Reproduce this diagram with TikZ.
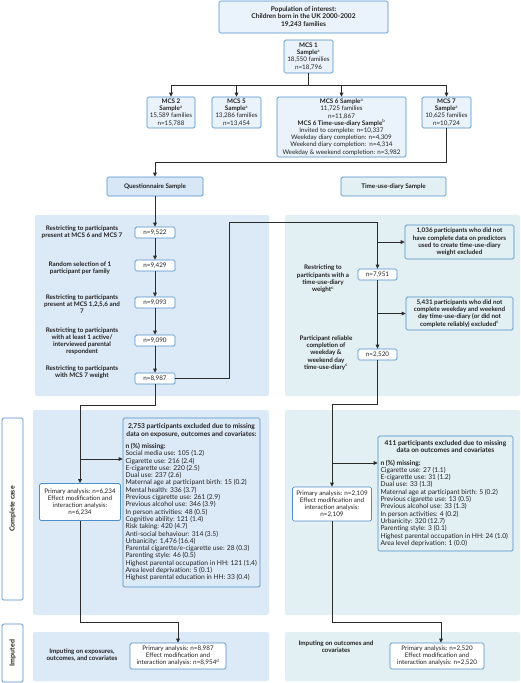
\documentclass[tikz,border=0pt]{standalone}
\usepackage{fontspec}
\setmainfont{Lato}
\usetikzlibrary{arrows.meta}
\definecolor{bord}{HTML}{4D8FCC}
\definecolor{topfill}{HTML}{EAF3FB}
\definecolor{qfill}{HTML}{D8E7F5}
\definecolor{panelL}{HTML}{DCE9F6}
\definecolor{panelR}{HTML}{E2EFF3}
\definecolor{lc}{HTML}{2B2B2B}
\definecolor{txt}{HTML}{222222}
\newcommand{\fs}{\fontsize{6.3}{7.2}\selectfont}
\newcommand{\fsl}{\fontsize{6.7}{7.3}\selectfont}
\newcommand{\sa}[1]{\textsuperscript{#1}}
\tikzset{
 bx/.style={draw=bord, line width=0.7pt, rounded corners=1.5pt, align=center, inner sep=1pt, font=\fs, text=txt},
 topbx/.style={bx, fill=topfill},
 nbx/.style={bx, fill=white, minimum width=40pt, minimum height=11pt},
 wbx/.style={bx, fill=white},
 lbl/.style={align=center, font=\fs\bfseries, inner sep=0pt, text=txt},
 arr/.style={draw=lc, line width=0.8pt, -{Triangle[length=4pt,width=3.6pt]}},
 ln/.style={draw=lc, line width=0.8pt},
 side/.style={bx, fill=white, rotate=90, font=\fontsize{7}{8}\selectfont\bfseries},
}
\begin{document}
\begin{tikzpicture}[x=1pt,y=-1pt]
\useasboundingbox (0,0) rectangle (520,683);
% panels
\fill[panelL, rounded corners=2pt] (35,215) rectangle (269,396);
\fill[panelR, rounded corners=2pt] (285,215) rectangle (520,396);
\fill[panelL, rounded corners=2pt] (33,410) rectangle (269,615);
\fill[panelR, rounded corners=2pt] (285,410) rectangle (520,615);
\fill[panelL, rounded corners=2pt] (33,632) rectangle (269,681);
\fill[panelR, rounded corners=2pt] (285,632) rectangle (520,681);

% side labels
\node[side, minimum width=182pt, minimum height=21pt] (sl1) at (12.5,509) {Complete case};
\node[side, minimum width=58pt, minimum height=21pt] (sl2) at (12.5,653) {Imputed};

% top
\node[topbx, minimum width=169pt, minimum height=32pt, font=\fontsize{6.6}{7.6}\selectfont\bfseries] (pop) at (303.5,17) {Population of interest:\\Children born in the UK 2000-2002\\19,243 families};
\node[topbx, minimum width=49pt, minimum height=33pt] (mcs1) at (308.5,56.5) {\textbf{MCS 1}\\\textbf{Sample}\sa{a}\\18,550 families\\n=18,796};
\node[topbx, minimum width=48pt, minimum height=31pt] (mcs2) at (171,112.5) {\textbf{MCS 2}\\\textbf{Sample}\sa{a}\\15,589 families\\n=15,788};
\node[topbx, minimum width=49pt, minimum height=31pt] (mcs5) at (236.5,112.5) {\textbf{MCS 5}\\\textbf{Sample}\sa{a}\\13,286 families\\n=13,454};
\node[topbx, minimum width=129pt, minimum height=60pt] (mcs6) at (341.5,127) {\textbf{MCS 6 Sample}\sa{a}\\11,725 families\\n=11,867\\\textbf{MCS 6 Time-use-diary Sample}\sa{b}\\Invited to complete: \textit{n}=10,337\\Weekday diary completion: n=4,309\\Weekend diary completion:\ \ n=4,314\\Weekday \& weekend completion: n=3,982};
\node[topbx, minimum width=49pt, minimum height=31pt] (mcs7) at (446.5,112.5) {\textbf{MCS 7}\\\textbf{Sample}\sa{a}\\10,625 families\\n=10,724};
\coordinate (j1) at (308.5,85);
\draw[ln] (mcs1.south) -- (j1);
\draw[arr] (j1) -| (mcs2.north);
\draw[arr] (j1) -| (mcs5.north);
\draw[arr] (j1) -| (mcs6.north);
\draw[arr] (j1) -| (mcs7.north);

\node[bx, fill=qfill, minimum width=96pt, minimum height=19pt, font=\fs\bfseries] (qs) at (155,186.5) {Questionnaire Sample};
\node[bx, fill=panelR, minimum width=105pt, minimum height=19pt, font=\fs\bfseries] (tud) at (393.5,186.5) {Time-use-diary Sample};
\coordinate (k1) at (155,162);
\draw[arr] (mcs7.south) |- (k1) -- (qs.north);

% left flow
\node[nbx] (nb1) at (155,232.5) {n=9,522};
\node[nbx] (nb2) at (155,265.5) {n=9,429};
\node[nbx] (nb3) at (155,302.5) {n=9,093};
\node[nbx] (nb4) at (155,340.5) {n=9,090};
\node[nbx] (nb5) at (155,378.5) {n=8,987};
\node[lbl] (lt1) at (82,232) {Restricting to participants\\present at MCS 6 and MCS 7};
\node[lbl] (lt2) at (80,268) {Random selection of 1\\participant per family};
\node[lbl] (lt3) at (82,304) {Restricting to participants\\present at MCS 1,2,5,6 and\\7};
\node[lbl] (lt4) at (82,341) {Restricting to participants\\with at least 1 active/\\interviewed parental\\respondent};
\node[lbl] (lt5) at (82,372) {Restricting to participants\\with MCS 7 weight};
\draw[arr] (qs.south) -- (nb1.north);
\draw[arr] (nb1.south) -- (nb2.north);
\draw[arr] (nb2.south) -- (nb3.north);
\draw[arr] (nb3.south) -- (nb4.north);
\draw[arr] (nb4.south) -- (nb5.north);

% right flow
\node[nbx, minimum width=39pt] (nb7) at (377.5,274.5) {n=7,951};
\node[nbx, minimum width=39pt] (nb8) at (377.5,354.5) {n=2,520};
\node[lbl] (rt1) at (323,279) {Restricting to\\participants with a\\time-use-diary\\weight\sa{c}};
\node[lbl] (rt2) at (326,353) {Participant reliable\\completion of\\weekday \&\\weekend day\\time-use-diary\sa{c}};
\node[bx, fill=panelR, minimum width=109pt, minimum height=34pt, font=\fs\bfseries] (ex1) at (459.5,242) {1,036 participants who did not\\have complete data on predictors\\used to create time-use-diary\\weight excluded};
\node[bx, fill=panelR, minimum width=107pt, minimum height=33pt, font=\fs\bfseries] (ex2) at (459.5,313.5) {5,431 participants who did not\\complete weekday and weekend\\day time-use-diary (or did not\\complete reliably) excluded\sa{c}};
\coordinate (c2) at (229,222);
\draw[arr] (nb5.east) -| (c2) -| (nb7.north);
\coordinate (b1) at (377.5,242);
\draw[arr] (b1) -- (ex1.west);
\coordinate (b2) at (377.5,313.5);
\draw[arr] (b2) -- (ex2.west);
\draw[arr] (nb7.south) -- (nb8.north);

% complete case left
\node[wbx, minimum width=81pt, minimum height=37pt] (pa1) at (80,502) {Primary analysis: n=6,234\\Effect modification and\\interaction analysis:\\n=6,234};
\node[bx, fill=panelL, minimum width=137pt, minimum height=169pt, inner sep=2pt] (ex3) at (191.5,502.5) {\begin{minipage}[c]{132pt}\fsl
{\centering\bfseries 2,753 participants excluded due to missing\\ data on exposure, outcomes and covariates:\par}
\vspace{5pt}
\textbf{n (\%) missing:}\\
Social media use: 105 (1.2)\\
Cigarette use: 216 (2.4)\\
E-cigarette use: 220 (2.5)\\
Dual use: 237 (2.6)\\
Maternal age at participant birth: 15 (0.2)\\
Mental health: 336 (3.7)\\
Previous cigarette use: 261 (2.9)\\
Previous alcohol use: 346 (3.9)\\
In person activities: 48 (0.5)\\
Cognitive ability: 121 (1.4)\\
Risk taking: 420 (4.7)\\
Anti-social behaviour: 314 (3.5)\\
Urbanicity: 1,476 (16.4)\\
Parental cigarette/e-cigarette use: 28 (0.3)\\
Parenting style: 46 (0.5)\\
Highest parental occupation in HH: 121 (1.4)\\
Area level deprivation: 5 (0.1)\\
Highest parental education in HH: 33 (0.4)
\end{minipage}};
\coordinate (c3) at (80,405);
\draw[arr] (nb5.south) |- (c3) -- (pa1.north);
\coordinate (b3) at (80,459);
\draw[arr] (b3) -- (b3 -| ex3.west);

% complete case right
\node[wbx, minimum width=79pt, minimum height=34pt] (pa2) at (332,504) {Primary analysis: n=2,109\\Effect modification and\\interaction analysis:\\n=2,109};
\node[bx, fill=panelR, minimum width=135pt, minimum height=115pt, inner sep=2pt] (ex4) at (445.5,493.5) {\begin{minipage}[c]{130pt}\fsl
{\centering\bfseries 411 participants excluded due to missing\\ data on outcomes and covariates\par}
\vspace{5pt}
\textbf{n (\%) missing:}\\
Cigarette use: 27 (1.1)\\
E-cigarette use: 31 (1.2)\\
Dual use: 33 (1.3)\\
Maternal age at participant birth: 5 (0.2)\\
Previous cigarette use: 13 (0.5)\\
Previous alcohol use: 33 (1.3)\\
In person activities: 4 (0.2)\\
Urbanicity: 320 (12.7)\\
Parenting style: 3 (0.1)\\
Highest parental occupation in HH: 24 (1.0)\\
Area level deprivation: 1 (0.0)
\end{minipage}};
\coordinate (c5) at (332,404);
\draw[arr] (nb8.south) |- (c5) -- (pa2.north);
\coordinate (b4) at (332,463);
\draw[arr] (b4) -- (b4 -| ex4.west);

% imputed
\node[wbx, minimum width=96pt, minimum height=26pt] (ipa1) at (178,656) {Primary analysis: n=8,987\\Effect modification and\\interaction analysis: n=8,954\sa{d}};
\node[wbx, minimum width=94pt, minimum height=26pt] (ipa2) at (437,656) {Primary analysis: n=2,520\\Effect modification and\\interaction analysis: n=2,520};
\node[lbl] (imp1) at (82,655) {Imputing on exposures,\\outcomes, and covariates};
\node[lbl] (imp2) at (336,647) {Imputing on outcomes and\\covariates};
\coordinate (c4) at (178,622);
\draw[arr] (pa1.south) |- (c4) -- (ipa1.north);
\coordinate (c6) at (441,622);
\draw[arr] (pa2.south) |- (c6) -- (c6 |- ipa2.north);
\end{tikzpicture}
\end{document}
